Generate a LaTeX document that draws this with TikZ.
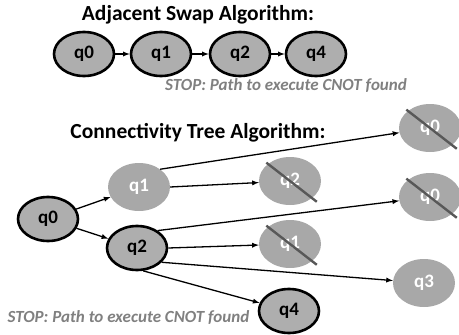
\documentclass[tikz,border=0pt]{standalone}
\usepackage{fontspec}
\setmainfont{Carlito}
\usetikzlibrary{shapes.geometric}

\definecolor{nodegray}{RGB}{174,174,174}
\definecolor{fadegray}{RGB}{168,168,168}
\definecolor{strikegray}{RGB}{88,88,88}
\definecolor{stopgray}{RGB}{128,128,128}

\tikzset{
  qubit/.style={draw, ellipse, line width=2.6pt, fill=nodegray, minimum width=60pt, minimum height=44pt, inner sep=0pt, font=\bfseries\fontsize{19}{19}\selectfont},
  faded/.style={ellipse, fill=fadegray, text=white, minimum width=62pt, minimum height=48pt, inner sep=0pt, font=\bfseries\fontsize{19}{19}\selectfont},
  link/.style={->, >=latex, line width=1.3pt},
  strike/.style={draw=strikegray, line width=2.4pt, shorten >=-6pt, shorten <=-2pt},
  heading/.style={font=\bfseries\fontsize{21.5}{21.5}\selectfont},
  stopnote/.style={text=stopgray, font=\bfseries\itshape\fontsize{17}{17}\selectfont}
}

\begin{document}
\begin{tikzpicture}[x=1pt, y=-1pt]
\useasboundingbox (0,0) rectangle (459,335);

\def \rowy {54}

% adjacent swap
\node[heading] (swaptitle) at (198,15) {Adjacent Swap Algorithm:};
\foreach \i/\q/\x in {0/q0/84,1/q1/161,2/q2/240,3/q4/316}
    \node[qubit] (a\i) at (\x,\rowy) {\q};
\foreach \i/\j in {0/1,1/2,2/3}
    \draw[link] (a\i) -- (a\j);
\node[stopnote] (swapstop) at (286,86) {STOP: Path to execute CNOT found};

% connectivity tree
\node[heading] (treetitle) at (198,133) {Connectivity Tree Algorithm:};
\node[qubit] (r0) at (48,219) {q0};
\node[faded] (r1) at (139,187) {q1};
\node[qubit] (r2) at (137,248) {q2};

\node[faded] (t0) at (430,128) {q0};
\node[faded] (c2) at (290,181) {q2};
\node[faded] (t1) at (430,197) {q0};
\node[faded] (c1) at (290,244) {q1};
\node[faded] (t3) at (424,283) {q3};
\node[qubit] (t4) at (289,311) {q4};

\draw[link] (r0) -- (r1);
\draw[link] (r0) -- (r2);
\draw[link] (r1.40) -- (t0);
\draw[link] (r1.east) -- (c2);
\draw[link] (r2.40) -- (t1);
\draw[link] (r2.east) -- (c1);
\draw[link] (r2.-30) -- (t3);
\draw[link] (r2.-75) -- (t4);

\foreach \c in {t0,c2,t1,c1}
    \draw[strike] (\c.north west) -- (\c.south east);

\node[stopnote, anchor=west] (treestop) at (4,318) {STOP: Path to execute CNOT found};
\end{tikzpicture}
\end{document}
